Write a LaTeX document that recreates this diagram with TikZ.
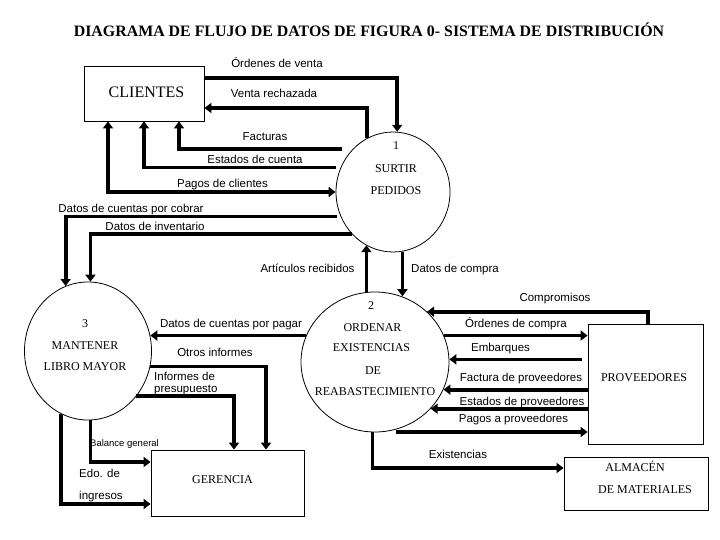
\documentclass[tikz,border=0pt]{standalone}
\usepackage{fontspec}
\setmainfont{Liberation Serif}
\newfontfamily\arialf{Liberation Sans}
\usetikzlibrary{arrows.meta,shapes.geometric}
\tikzset{
  flow/.style={line width=3.8pt,-{Triangle[length=7pt,width=10pt]}},
  flowboth/.style={line width=3.8pt,{Triangle[length=7pt,width=10pt]}-{Triangle[length=7pt,width=10pt]}},
  proc/.style={ellipse,draw,line width=0.8pt,inner sep=0pt},
  ent/.style={rectangle,draw,line width=0.9pt,inner sep=0pt},
  lbl/.style={font=\arialf\fontsize{11.5}{13}\selectfont,inner sep=0pt,anchor=base},
  lblw/.style={lbl,anchor=base west},
  ptxt/.style={font=\fontsize{12}{14}\selectfont,inner sep=0pt,anchor=base},
}
\begin{document}
\begin{tikzpicture}[x=1pt,y=-1pt]
\useasboundingbox[fill=white] (0,0) rectangle (720,540);

% title
\node[font=\bfseries\fontsize{15.9}{18}\selectfont,inner sep=0pt,anchor=base] (title) at (369,37) {DIAGRAMA DE FLUJO DE DATOS DE FIGURA 0- SISTEMA DE DISTRIBUCIÓN};

% processes
\node[proc,minimum width=114pt,minimum height=120pt] (c1) at (393,192) {};
\node[proc,minimum width=148pt,minimum height=140pt] (c2) at (375,362) {};
\node[proc,minimum width=127pt,minimum height=138pt] (c3) at (88,351) {};

% entities
\node[ent,minimum width=120pt,minimum height=55pt] (cli) at (144,93.5) {};
\node[ent,minimum width=153pt,minimum height=66pt] (ger) at (227.5,483) {};
\node[ent,minimum width=115pt,minimum height=120pt] (prov) at (645.5,384) {};
\node[ent,minimum width=144pt,minimum height=53pt] (alm) at (636,483.5) {};

% texts in shapes
\node[ptxt,font=\fontsize{16}{18}\selectfont] (tcli) at (146.5,97.5) {CLIENTES};
\node[ptxt] (t1a) at (396,150) {1};
\node[ptxt] (t1b) at (396,173) {SURTIR};
\node[ptxt] (t1c) at (396,195) {PEDIDOS};
\node[ptxt] (t2a) at (371,309) {2};
\node[ptxt] (t2b) at (372.5,331) {ORDENAR};
\node[ptxt] (t2c) at (371.5,351) {EXISTENCIAS};
\node[ptxt] (t2d) at (373,374) {DE};
\node[ptxt] (t2e) at (375,395) {REABASTECIMIENTO};
\node[ptxt] (t3a) at (85,327) {3};
\node[ptxt] (t3b) at (85,349) {MANTENER};
\node[ptxt] (t3c) at (85,370) {LIBRO MAYOR};
\node[ptxt] (tger) at (222.5,483) {GERENCIA};
\node[ptxt] (tprov) at (644,381) {PROVEEDORES};
\node[ptxt] (talm1) at (635,471) {ALMACÉN};
\node[ptxt] (talm2) at (645,493) {DE MATERIALES};

% connectors
\draw[flow] (cli.east |- 0,78) -| (c1.86);
\draw[flow] (c1.116) |- (cli.east |- 0,108);
\draw[flow,shorten <=11pt] (c1.133) -| ([xshift=35pt]cli.south);
\draw[flow,shorten <=5pt] (c1.155) -| (cli.south);
\draw[flowboth] ([xshift=-36pt]cli.south) |- (c1.west);
\draw[flow,shorten <=4pt] (c1.205) -| (c3.109);
\draw[flow] (c1.226) -| (c3.88);
\draw[flow] (c2.97) -- (c2.97 |- c1.243);
\draw[flow] (c1.279) -- (c1.279 |- c2.68);
\draw[flow] (c2.159) -- (c2.159 -| c3.14);
\draw[flow] (c3.346) -| ([xshift=38.5pt]ger.north);
\draw[flow] (c3.317) -| ([xshift=6.5pt]ger.north);
\draw[flow] (c3.272) |- ([yshift=21pt]ger.west);
\draw[flow] (c3.247) |- ([yshift=-21pt]ger.west);
\draw[flow] ([xshift=2.5pt]prov.north) |- (c2.44);
\draw[flow] (c2.21) -- (c2.21 -| prov.west);
\draw[flow,shorten <=6pt] (c2.2 -| prov.west) -- (c2.2);
\draw[flow] (c2.338 -| prov.west) -- (c2.338);
\draw[flow] (c2.320 -| prov.west) -- (c2.320);
\coordinate (ppend) at ([yshift=-48pt]prov.west);
\draw[flow] (c2.287 |- ppend) -- (ppend);
\draw[flow] (c2.268) |- ([yshift=15.5pt]alm.west);

% flow labels
\node[lbl] (lov) at (277,68) {Órdenes de venta};
\node[lbl] (lvr) at (274,98) {Venta rechazada};
\node[lbl] (lfa) at (265,141) {Facturas};
\node[lbl] (lec) at (255,164) {Estados de cuenta};
\node[lbl] (lpc) at (222.5,188) {Pagos de clientes};
\node[lbl] (ldcc) at (131,212) {Datos de cuentas por cobrar};
\node[lbl] (ldi) at (155,230) {Datos de inventario};
\node[lbl] (lar) at (307.5,272) {Artículos recibidos};
\node[lbl] (ldc) at (455,272) {Datos de compra};
\node[lbl] (lco) at (555,301) {Compromisos};
\node[lbl] (loc) at (516,327) {Órdenes de compra};
\node[lbl] (lem) at (500.5,351) {Embarques};
\node[lbl] (lfp) at (521,381) {Factura de proveedores};
\node[lbl] (lep) at (522,405) {Estados de proveedores};
\node[lbl] (lpp) at (513.5,422) {Pagos a proveedores};
\node[lbl] (lex) at (458,458) {Existencias};
\node[lbl] (ldcp) at (231,327) {Datos de cuentas por pagar};
\node[lbl] (loi) at (215,356) {Otros informes};
\node[lblw] (lip1) at (154,380) {Informes de};
\node[lblw] (lip2) at (154,392) {presupuesto};
\node[lblw,font=\arialf\fontsize{9.5}{11}\selectfont] (lbg) at (90,446) {Balance general};
\node[lblw] (ledo1) at (79,477) {Edo. de};
\node[lblw] (ledo2) at (79,499) {ingresos};
\end{tikzpicture}
\end{document}
